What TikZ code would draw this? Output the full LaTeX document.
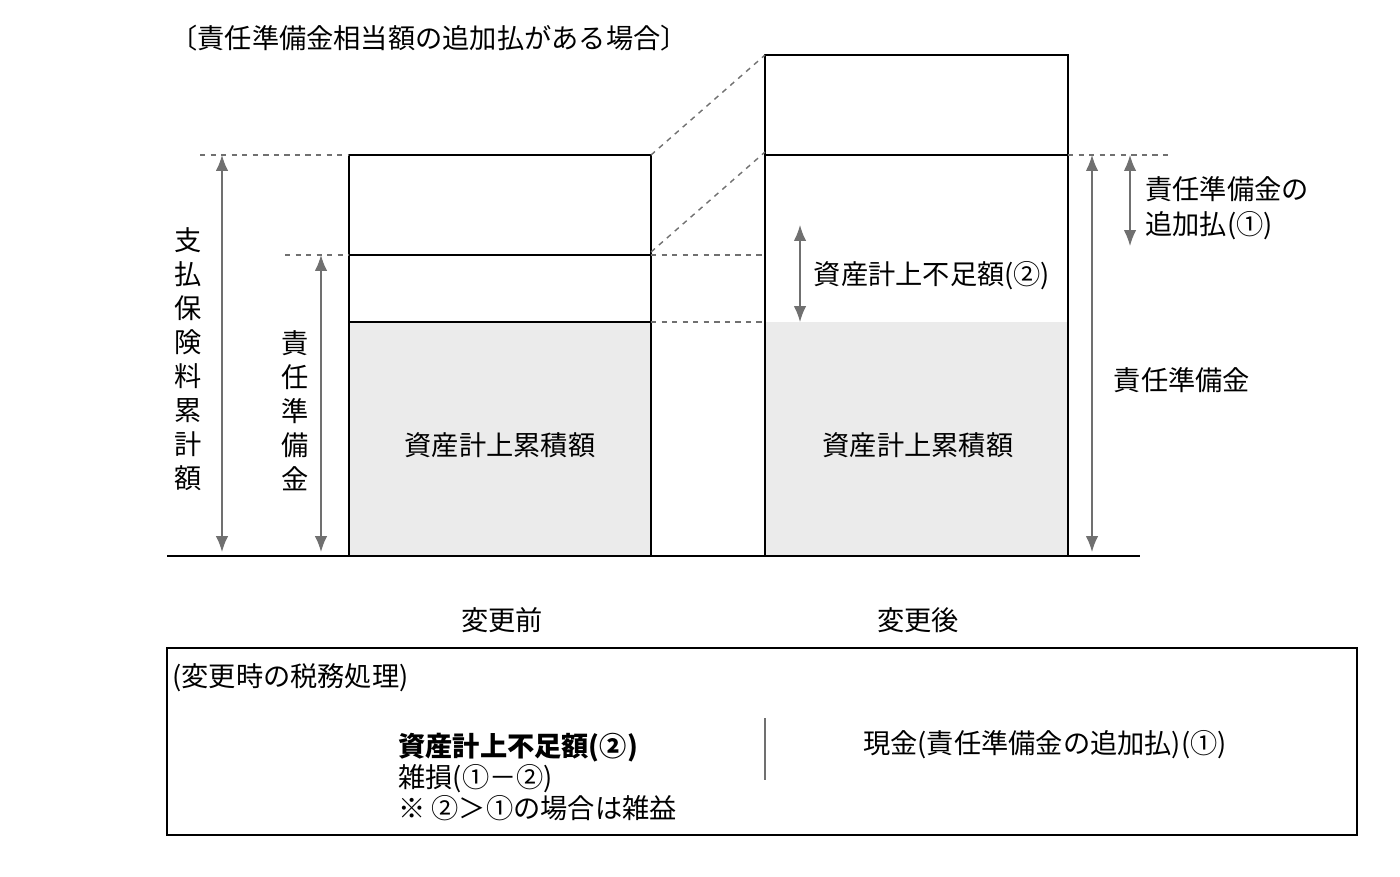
\documentclass[tikz,border=0pt]{standalone}
\usepackage{fontspec}
\setmainfont{Noto Sans CJK JP}
\usetikzlibrary{positioning,calc,arrows.meta}
\definecolor{fillgray}{HTML}{EBEBEB}
\definecolor{arrgray}{HTML}{707070}
\begin{document}
\begin{tikzpicture}
                    [x=0.02cm,y=-0.02cm,>=latex,
                     label/.style={font=\fontsize{15.5}{18}\selectfont,inner sep=0pt},
                     vlabel/.style={label,align=center,font=\fontsize{15.5}{19.3}\selectfont},
                     dim/.style={{Latex[length=9pt,width=7pt]}-{Latex[length=9pt,width=7pt]},thick,arrgray},
                     guide/.style={dashed,thick,arrgray},
                     box/.style={thick}]

                        \useasboundingbox (0,0) rectangle (1400,876);
                        \node[label,anchor=west] (title) at (170,38) {〔責任準備金相当額の追加払がある場合〕};

                        % boxes
                        \fill[fillgray] (349,322) rectangle (651,556);
                        \fill[fillgray] (765,322) rectangle (1068,556);
                        \draw[box] (349,556) |- (651,155) -- (651,556);
                        \draw[box] (349,255) -- (651,255);
                        \draw[box] (349,322) -- (651,322);
                        \draw[box] (765,556) |- (1068,55) -- (1068,556);
                        \draw[box] (765,155) -- (1068,155);
                        \draw[thick] (167,556) -- (1140,556);

                        % guides
                        \coordinate (tl) at (200,155);
                        \draw[guide] (tl) -- (349,155);
                        \draw[guide] (285,255) -- (349,255);
                        \draw[guide] (651,155) -- (765,55);
                        \draw[guide] (651,252) -- (765,152);
                        \draw[guide] (651,255) -- (765,255);
                        \draw[guide] (651,322) -- (765,322);
                        \draw[guide] (1068,155) -- (1170,155);

                        % dimensions
                        \draw[dim] (222,155) -- (222,552);
                        \draw[dim] (321,255) -- (321,552);
                        \draw[dim] (800,225) -- (800,322);
                        \draw[dim] (1130,155) -- (1130,246);
                        \draw[dim] (1092,155) -- (1092,552);

                        \node[vlabel] (paid) at (188,359) {支\\払\\保\\険\\料\\累\\計\\額};
                        \node[vlabel] (resv) at (295,411) {責\\任\\準\\備\\金};
                        \node[label] (acc1) at (500,445) {資産計上累積額};
                        \node[label] (acc2) at (918,445) {資産計上累積額};
                        \node[label] (short) at (932,276) {資産計上不足額(②)};
                        \node[label,anchor=west,align=left,font=\fontsize{15.5}{20}\selectfont] (add) at (1145,208) {責任準備金の\\追加払(①)};
                        \node[label] (resv2) at (1182,380) {責任準備金};
                        \node[label] (before) at (502,620) {変更前};
                        \node[label] (after) at (918,620) {変更後};

                        % tax treatment
                        \draw[thick] (167,648) rectangle (1357,835);
                        \node[label,anchor=west] (tax) at (172,678) {(変更時の税務処理)};
                        \draw[thick,arrgray] (765,718) -- (765,780);
                        \node[label,anchor=west,align=left,font=\fontsize{15.5}{17.6}\selectfont] (debit) at (398,777)
                            {\textbf{資産計上不足額(②)}\\雑損(①－②)\\※ ②＞①の場合は雑益};
                        \node[label] (credit) at (1045,745) {現金(責任準備金の追加払)(①)};

                \end{tikzpicture}
\end{document}
